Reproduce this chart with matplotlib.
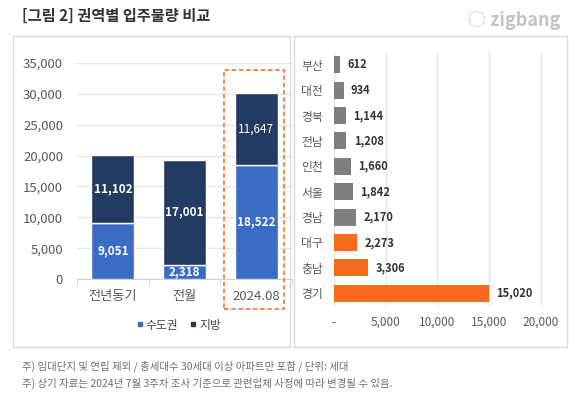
import matplotlib
matplotlib.use("Agg")
import matplotlib.pyplot as plt
from matplotlib.patches import Rectangle
from matplotlib.lines import Line2D

plt.rcParams['font.family'] = ['Noto Sans CJK KR', 'DejaVu Sans']

# left chart data
periods = ['전년동기', '전월', '2024.08']
metro = [9051, 2318, 18522]
local = [11102, 17001, 11647]

# right chart data
regions = ['부산', '대전', '경북', '전남', '인천', '서울', '경남', '대구', '충남', '경기']
supply = [612, 934, 1144, 1208, 1660, 1842, 2170, 2273, 3306, 15020]
highlight = [False, False, False, False, False, False, False, True, True, True]

blue = '#3a6cc3'
navy = '#243b61'
gray = '#7f7f7f'
orange = '#fa6a1e'
txt = '#595959'

W, H = 580, 397
fig = plt.figure(figsize=(W / 100, H / 100), dpi=100)

def fx(px):
    return px / W

def fy(py):
    return 1 - py / H

# panel frames
for x0, x1 in [(13, 290), (294, 567)]:
    fig.patches.append(Rectangle((fx(x0), fy(347)), fx(x1) - fx(x0), fy(36) - fy(347),
                                 transform=fig.transFigure, fill=False,
                                 edgecolor='#dcdcdc', linewidth=1))

# title and logo
fig.text(fx(22), fy(16), '[그림 2] 권역별 입주물량 비교', fontsize=11, fontweight='bold',
         color='#333333', va='center', ha='left')
fig.text(fx(560), fy(20), '◌ zigbang', fontsize=13, fontweight='bold',
         color='#c4c4c4', va='center', ha='right')

# ---- left stacked bars
ax1 = fig.add_axes([fx(77), fy(279), fx(292) - fx(77), fy(63) - fy(279)])
x = range(len(periods))
b1 = ax1.bar(x, metro, width=0.6, color=blue, edgecolor='white', linewidth=1, label='수도권', zorder=3)
b2 = ax1.bar(x, local, width=0.6, bottom=metro, color=navy, edgecolor='white', linewidth=1, label='지방', zorder=3)
ax1.set_xlim(-0.5, 2.5)
ax1.set_ylim(0, 35000)
ax1.set_yticks(range(0, 35001, 5000))
ax1.set_yticklabels([f'{v:,}' for v in range(0, 35001, 5000)])
ax1.set_xticks(list(x))
ax1.set_xticklabels(periods)
ax1.set_xticks([-0.5, 0.5, 1.5, 2.5], minor=True)
ax1.tick_params(axis='x', which='major', length=0, pad=8, labelsize=9.5, labelcolor=txt)
ax1.tick_params(axis='x', which='minor', length=4, color='#d0d0d0', direction='out')
ax1.tick_params(axis='y', length=0, pad=10, labelsize=9.5, labelcolor=txt)
ax1.grid(axis='y', color='#e6e6e6', linewidth=1, zorder=0)
for s in ['top', 'right', 'left']:
    ax1.spines[s].set_visible(False)
ax1.spines['bottom'].set_color('#d0d0d0')

for i in x:
    wt = 'normal' if i == 2 else 'bold'
    ax1.text(i, metro[i] / 2, f'{metro[i]:,}', ha='center', va='center', color='white',
             fontsize=8.5, fontweight='bold', zorder=4)
    ax1.text(i, metro[i] + local[i] / 2, f'{local[i]:,}', ha='center', va='center', color='white',
             fontsize=8.5, fontweight=wt, zorder=4)

# dashed highlight around 2024.08
ax1.add_patch(Rectangle((1.556, -4860), 0.833, 33866 + 4860, fill=False, edgecolor='#f08040',
                        linestyle=(0, (2.5, 1.5)), linewidth=1.3, clip_on=False, zorder=5))

handles = [Line2D([], [], marker='s', linestyle='none', markersize=3.5, color=blue),
           Line2D([], [], marker='s', linestyle='none', markersize=3.5, color=navy)]
fig.legend(handles, ['수도권', '지방'], loc='center', bbox_to_anchor=(fx(178), fy(325)),
           ncol=2, frameon=False, fontsize=8.5, handletextpad=0.1, handlelength=0.8,
           columnspacing=0.9, labelcolor='#444444')

# ---- right horizontal bars
ax2 = fig.add_axes([fx(334), fy(306), fx(551) - fx(334), fy(52) - fy(306)])
ypos = range(len(regions))
colors = [orange if h else gray for h in highlight]
ax2.barh(ypos, supply, height=0.67, color=colors, zorder=3)
ax2.set_ylim(len(regions) - 0.5, -0.5)
ax2.set_xlim(0, 21000)
ax2.set_yticks(list(ypos))
ax2.set_yticklabels(regions)
ax2.set_xticks(range(0, 20001, 5000))
ax2.set_xticklabels(['-'] + [f'{v:,}' for v in range(5000, 20001, 5000)])
ax2.tick_params(axis='y', length=0, pad=8, labelsize=8.5, labelcolor=txt)
ax2.tick_params(axis='x', length=0, pad=7, labelsize=8.5, labelcolor=txt)
ax2.grid(axis='x', color='#e6e6e6', linewidth=1, zorder=0)
for s in ax2.spines.values():
    s.set_visible(False)
for i, v in enumerate(supply):
    ax2.text(v + 700, i, f'{v:,}', ha='left', va='center', color='#333333',
             fontsize=8, fontweight='bold', zorder=4)

# notes
fig.text(fx(22), fy(366), '주) 임대단지 및 연립 제외 / 총세대수 30세대 이상 아파트만 포함 / 단위: 세대',
         fontsize=7.5, color='#6e6e6e', va='center')
fig.text(fx(22), fy(383), '주) 상기 자료는 2024년 7월 3주차 조사 기준으로 관련업체 사정에 따라 변경될 수 있음.',
         fontsize=7.5, color='#6e6e6e', va='center')

fig.savefig('out.png', dpi=100, facecolor='white')
